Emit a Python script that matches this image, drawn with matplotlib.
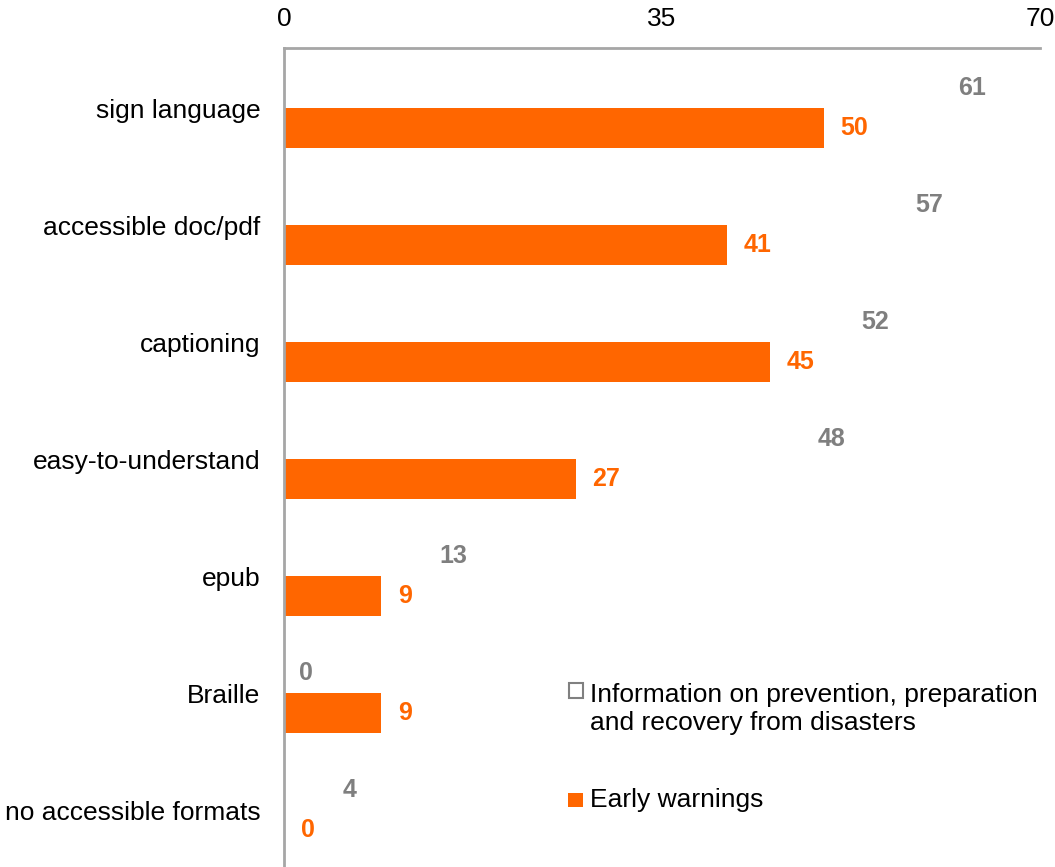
import matplotlib
matplotlib.use("Agg")
import matplotlib.pyplot as plt
from matplotlib.patches import Rectangle
import numpy as np
from matplotlib import font_manager

categories = ["sign language", "accessible doc/pdf", "captioning", "easy-to-understand",
              "epub", "Braille", "no accessible formats"]
info_values = [61, 57, 52, 48, 13, 0, 4]
early_values = [50, 41, 45, 27, 9, 9, 0]
xticks = [0, 35, 70]
series_names = ["Information on prevention, preparation\nand recovery from disasters", "Early warnings"]

names = {f.name for f in font_manager.fontManager.ttflist}
base = "Liberation Sans" if "Liberation Sans" in names else "DejaVu Sans"

ORANGE = "#FF6600"
GRAY = "#7F7F7F"
SPINE = "#A6A6A6"

fig = plt.figure(figsize=(10.55, 8.67), dpi=100)
ax = fig.add_axes([284/1055, 0.0, (1040-284)/1055, (867-48)/867])

y = np.arange(len(categories))
h = 0.342
ax.barh(y - h/2, info_values, height=h, color="white", edgecolor="none")
ax.barh(y + h/2, early_values, height=h, color=ORANGE, edgecolor="none")

for yi, v in zip(y, info_values):
    ax.annotate(str(v), (v, yi - h/2), xytext=(11, 0), textcoords="offset points",
                ha="left", va="center", color=GRAY, fontsize=18, fontweight="bold",
                family=base)
for yi, v in zip(y, early_values):
    ax.annotate(str(v), (v, yi + h/2), xytext=(12, 0), textcoords="offset points",
                ha="left", va="center", color=ORANGE, fontsize=18, fontweight="bold",
                family=base)

ax.set_xlim(0, 70)
ax.set_ylim(6.487, -0.513)
ax.set_xticks(xticks)
ax.set_xticklabels([str(t) for t in xticks], family=base, fontsize=19)
ax.xaxis.tick_top()
ax.tick_params(axis="x", length=0, pad=12)
ax.set_yticks(y)
ax.set_yticklabels(categories, family=base, fontsize=19)
ax.tick_params(axis="y", length=0, pad=17)

for s in ["right", "bottom"]:
    ax.spines[s].set_visible(False)
for s in ["top", "left"]:
    ax.spines[s].set_color(SPINE)
    ax.spines[s].set_linewidth(2)

# legend (manual, in figure pixel coords)
def fx(px):
    return px / 1055
def fy(py):
    return 1 - py / 867

fig.patches.append(Rectangle((fx(569), fy(698)), 14/1055, 15/867, transform=fig.transFigure,
                             facecolor="white", edgecolor="#808080", linewidth=1.5))
fig.text(fx(590), fy(683), series_names[0], ha="left", va="top", family=base, fontsize=19,
         linespacing=1.22, transform=fig.transFigure)
fig.patches.append(Rectangle((fx(568), fy(807)), 15/1055, 14/867, transform=fig.transFigure,
                             facecolor=ORANGE, edgecolor="none"))
fig.text(fx(590), fy(800), series_names[1], ha="left", va="center", family=base, fontsize=19,
         transform=fig.transFigure)

fig.savefig("out.png", dpi=100)
